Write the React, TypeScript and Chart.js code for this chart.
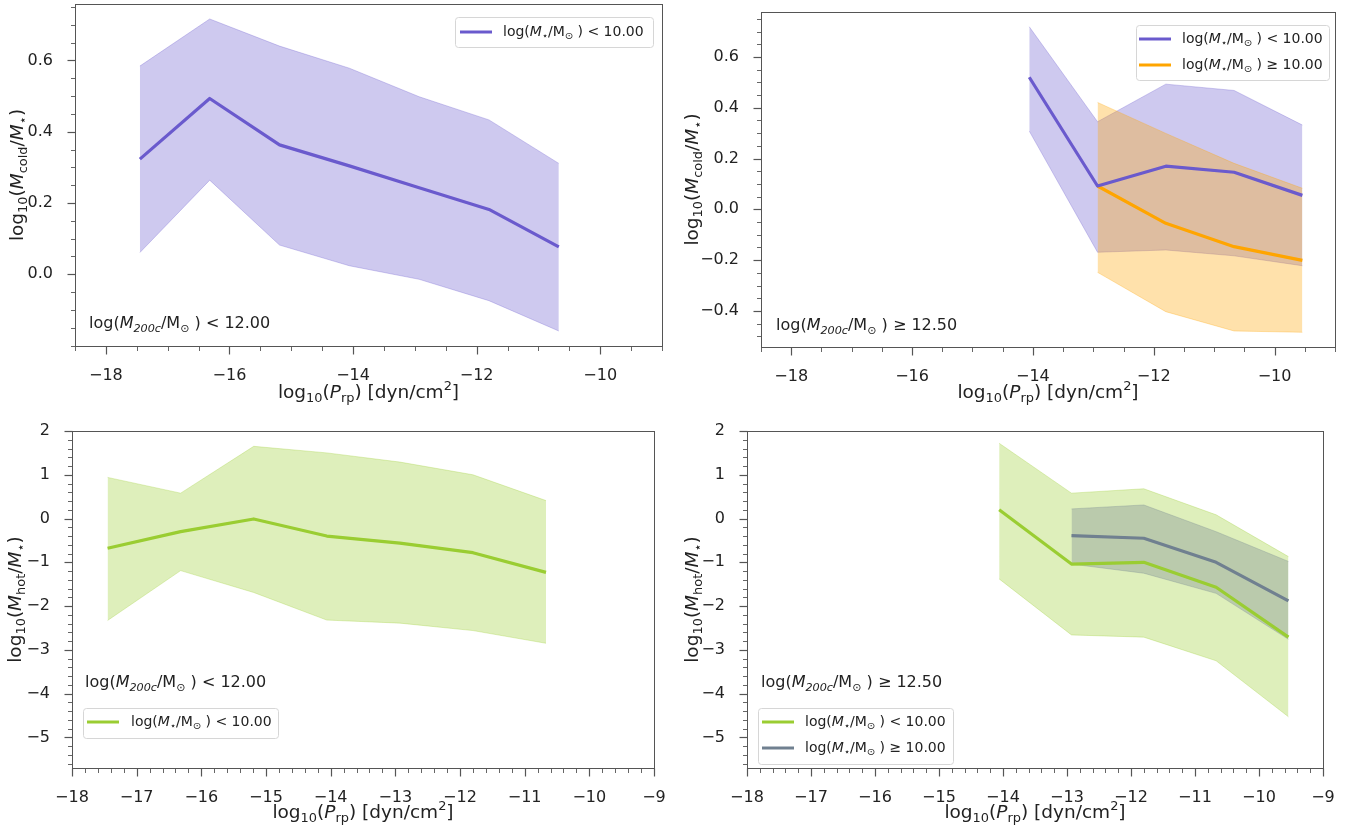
import React, { useEffect, useRef } from 'react';
import { Chart, registerables } from 'chart.js';
Chart.register(...registerables);

// ---------------- data ----------------
const xLowHalo = [-17.45, -16.32, -15.19, -14.06, -12.93, -11.8, -10.67];
const xHighHalo = [-14.06, -12.93, -11.8, -10.67, -9.54];
const xHighHaloMassive = [-12.93, -11.8, -10.67, -9.54];

const coldLowMed = [0.323, 0.493, 0.363, 0.304, 0.243, 0.182, 0.077];
const coldLowUp = [0.584, 0.716, 0.64, 0.578, 0.498, 0.433, 0.311];
const coldLowLo = [0.061, 0.264, 0.082, 0.024, -0.014, -0.074, -0.159];

const coldHighMedA = [0.52, 0.092, 0.17, 0.146, 0.055];
const coldHighUpA = [0.719, 0.345, 0.493, 0.468, 0.332];
const coldHighLoA = [0.308, -0.169, -0.16, -0.183, -0.222];
const coldHighMedB = [0.092, -0.055, -0.147, -0.201];
const coldHighUpB = [0.421, 0.299, 0.181, 0.083];
const coldHighLoB = [-0.248, -0.403, -0.479, -0.484];

const hotLowMed = [-0.68, -0.3, -0.01, -0.4, -0.56, -0.78, -1.23];
const hotLowUp = [0.94, 0.58, 1.65, 1.5, 1.29, 1.0, 0.41];
const hotLowLo = [-2.33, -1.19, -1.69, -2.32, -2.39, -2.56, -2.85];

const hotHighMedA = [0.2, -1.04, -1.0, -1.57, -2.71];
const hotHighUpA = [1.72, 0.58, 0.68, 0.085, -0.87];
const hotHighLoA = [-1.38, -2.66, -2.71, -3.25, -4.53];
const hotHighMedB = [-0.39, -0.45, -1.0, -1.88];
const hotHighUpB = [0.22, 0.31, -0.3, -0.98];
const hotHighLoB = [-1.04, -1.25, -1.71, -2.76];

const topXTicks = [-18, -16, -14, -12, -10];
const bottomXTicks = [-18, -17, -16, -15, -14, -13, -12, -11, -10, -9];
const coldLowYTicks = [0, 0.2, 0.4, 0.6];
const coldHighYTicks = [-0.4, -0.2, 0, 0.2, 0.4, 0.6];
const hotYTicks = [-5, -4, -3, -2, -1, 0, 1, 2];

// ---------------- text helpers ----------------
type Seg = { t: string; i?: boolean; s?: 'sub' | 'sup' };
const FONT = '"DejaVu Sans"';
const TEXT = '#222';
const FRAME = '#555';

const xLabel: Seg[] = [{ t: 'log' }, { t: '10', s: 'sub' }, { t: '(' }, { t: 'P', i: true }, { t: 'rp', s: 'sub' }, { t: ') [dyn/cm' }, { t: '2', s: 'sup' }, { t: ']' }];
const coldLabel: Seg[] = [{ t: 'log' }, { t: '10', s: 'sub' }, { t: '(' }, { t: 'M', i: true }, { t: 'cold', s: 'sub' }, { t: '/' }, { t: 'M', i: true }, { t: '⋆', s: 'sub' }, { t: ')' }];
const hotLabel: Seg[] = [{ t: 'log' }, { t: '10', s: 'sub' }, { t: '(' }, { t: 'M', i: true }, { t: 'hot', s: 'sub' }, { t: '/' }, { t: 'M', i: true }, { t: '⋆', s: 'sub' }, { t: ')' }];
const lowStarLabel: Seg[] = [{ t: 'log(' }, { t: 'M', i: true }, { t: '⋆', s: 'sub' }, { t: '/M' }, { t: '⊙', s: 'sub' }, { t: ' ) < 10.00' }];
const highStarLabel: Seg[] = [{ t: 'log(' }, { t: 'M', i: true }, { t: '⋆', s: 'sub' }, { t: '/M' }, { t: '⊙', s: 'sub' }, { t: ' ) ≥ 10.00' }];
const lowHaloNote: Seg[] = [{ t: 'log(' }, { t: 'M', i: true }, { t: '200c', s: 'sub', i: true }, { t: '/M' }, { t: '⊙', s: 'sub' }, { t: ' ) < 12.00' }];
const highHaloNote: Seg[] = [{ t: 'log(' }, { t: 'M', i: true }, { t: '200c', s: 'sub', i: true }, { t: '/M' }, { t: '⊙', s: 'sub' }, { t: ' ) ≥ 12.50' }];

function segFont(g: Seg, size: number) {
  const sz = g.s ? size * 0.7 : size;
  return `${g.i ? 'italic ' : ''}${sz}px ${FONT}`;
}
function richWidth(ctx: CanvasRenderingContext2D, segs: Seg[], size: number) {
  let w = 0;
  for (const g of segs) {
    ctx.font = segFont(g, size);
    w += ctx.measureText(g.t).width;
  }
  return w;
}
function drawRich(ctx: CanvasRenderingContext2D, segs: Seg[], x: number, cy: number, size: number, align: 'left' | 'center') {
  ctx.save();
  ctx.fillStyle = TEXT;
  ctx.textBaseline = 'alphabetic';
  ctx.textAlign = 'left';
  const w = richWidth(ctx, segs, size);
  let cx = align === 'center' ? x - w / 2 : x;
  const base = cy + 0.28 * size;
  for (const g of segs) {
    ctx.font = segFont(g, size);
    const dy = g.s === 'sub' ? 0.22 * size : g.s === 'sup' ? -0.42 * size : 0;
    ctx.fillText(g.t, cx, base + dy);
    cx += ctx.measureText(g.t).width;
  }
  ctx.restore();
}

// ---------------- panels ----------------
type RGB = [number, number, number];
const SLATEBLUE: RGB = [106, 90, 205];
const ORANGE: RGB = [255, 165, 0];
const YELLOWGREEN: RGB = [154, 205, 50];
const SLATEGRAY: RGB = [112, 128, 144];
const rgba = (c: RGB, a: number) => `rgba(${c[0]},${c[1]},${c[2]},${a})`;

interface SeriesDef { xs: number[]; med: number[]; up: number[]; lo: number[]; color: RGB; label: Seg[] }
interface PanelDef {
  left: number; top: number; w: number; h: number;
  area: { l: number; t: number; r: number; b: number };
  xMin: number; xMax: number; xMajor: number[]; xMinor: number;
  yMin: number; yMax: number; yMajor: number[]; yMinor: number; yDec: number;
  series: SeriesDef[];
  ylabel: Seg[]; ylabelX: number; xlabelY: number;
  note: Seg[]; noteX: number; noteY: number;
  legend: { x: number; y: number; w: number; h: number; lineX: number; rows: number[]; textX: number };
}

const panels: PanelDef[] = [
  {
    left: 0, top: 0, w: 681, h: 414,
    area: { l: 75, t: 4, r: 662, b: 346 },
    xMin: -18.5, xMax: -9.0, xMajor: topXTicks, xMinor: 0.5,
    yMin: -0.201, yMax: 0.758, yMajor: coldLowYTicks, yMinor: 0.05, yDec: 1,
    series: [{ xs: xLowHalo, med: coldLowMed, up: coldLowUp, lo: coldLowLo, color: SLATEBLUE, label: lowStarLabel }],
    ylabel: coldLabel, ylabelX: 18, xlabelY: 393,
    note: lowHaloNote, noteX: 89, noteY: 324,
    legend: { x: 455, y: 17, w: 198, h: 30, lineX: 460, rows: [32], textX: 503 },
  },
  {
    left: 681, top: 0, w: 682, h: 414,
    area: { l: 80, t: 12, r: 654, b: 347 },
    xMin: -18.5, xMax: -9.0, xMajor: topXTicks, xMinor: 0.5,
    yMin: -0.542, yMax: 0.777, yMajor: coldHighYTicks, yMinor: 0.05, yDec: 1,
    series: [
      { xs: xHighHalo, med: coldHighMedA, up: coldHighUpA, lo: coldHighLoA, color: SLATEBLUE, label: lowStarLabel },
      { xs: xHighHaloMassive, med: coldHighMedB, up: coldHighUpB, lo: coldHighLoB, color: ORANGE, label: highStarLabel },
    ],
    ylabel: coldLabel, ylabelX: 12, xlabelY: 393,
    note: highHaloNote, noteX: 95, noteY: 326,
    legend: { x: 455, y: 25, w: 193, h: 55, lineX: 458, rows: [39, 65], textX: 501 },
  },
  {
    left: 0, top: 414, w: 681, h: 414,
    area: { l: 72, t: 17, r: 654, b: 354 },
    xMin: -18, xMax: -9, xMajor: bottomXTicks, xMinor: 0.2,
    yMin: -5.7, yMax: 2.0, yMajor: hotYTicks, yMinor: 0.2, yDec: 0,
    series: [{ xs: xLowHalo, med: hotLowMed, up: hotLowUp, lo: hotLowLo, color: YELLOWGREEN, label: lowStarLabel }],
    ylabel: hotLabel, ylabelX: 16, xlabelY: 399,
    note: lowHaloNote, noteX: 85, noteY: 269,
    legend: { x: 83, y: 294, w: 195, h: 30, lineX: 87, rows: [308], textX: 131 },
  },
  {
    left: 681, top: 414, w: 682, h: 414,
    area: { l: 66, t: 17, r: 642, b: 354 },
    xMin: -18, xMax: -9, xMajor: bottomXTicks, xMinor: 0.2,
    yMin: -5.7, yMax: 2.0, yMajor: hotYTicks, yMinor: 0.2, yDec: 0,
    series: [
      { xs: xHighHalo, med: hotHighMedA, up: hotHighUpA, lo: hotHighLoA, color: YELLOWGREEN, label: lowStarLabel },
      { xs: xHighHaloMassive, med: hotHighMedB, up: hotHighUpB, lo: hotHighLoB, color: SLATEGRAY, label: highStarLabel },
    ],
    ylabel: hotLabel, ylabelX: 12, xlabelY: 399,
    note: highHaloNote, noteX: 80, noteY: 269,
    legend: { x: 77, y: 294, w: 195, h: 56, lineX: 81, rows: [308, 334], textX: 124 },
  },
];

const fmt = (v: number, dec: number) => v.toFixed(dec).replace('-', '\u2212');

function buildChart(canvas: HTMLCanvasElement, p: PanelDef) {
  const pts = (xs: number[], ys: number[]) => xs.map((x, i) => ({ x, y: ys[i] }));
  const datasets: any[] = [];
  const n = p.series.length;
  p.series.forEach((s) => {
    datasets.push({
      data: pts(s.xs, s.med), borderColor: rgba(s.color, 1), borderWidth: 3.2,
      pointRadius: 0, fill: false, order: 0, borderJoinStyle: 'round', borderCapStyle: 'butt',
    });
  });
  p.series.forEach((s, k) => {
    datasets.push({
      data: pts(s.xs, s.up), borderColor: rgba(s.color, 0.3), borderWidth: 1,
      backgroundColor: rgba(s.color, 0.33), pointRadius: 0, fill: '+1', order: 1 + (n - k),
    });
    datasets.push({
      data: pts(s.xs, s.lo), borderColor: rgba(s.color, 0.3), borderWidth: 1,
      pointRadius: 0, fill: false, order: 1 + (n - k),
    });
  });

  const deco = {
    id: 'deco',
    afterDraw(chart: any) {
      const ctx: CanvasRenderingContext2D = chart.ctx;
      const a = chart.chartArea;
      const xs = chart.scales.x;
      const ys = chart.scales.y;
      ctx.save();
      ctx.strokeStyle = FRAME;
      ctx.lineWidth = 1;
      ctx.strokeRect(Math.round(a.left) + 0.5, Math.round(a.top) + 0.5, Math.round(a.right - a.left), Math.round(a.bottom - a.top));
      const isMajor = (v: number, majors: number[]) => majors.some((m) => Math.abs(m - v) < 1e-6);
      const drawTick = (x1: number, y1: number, x2: number, y2: number, w: number) => {
        ctx.lineWidth = w;
        ctx.beginPath();
        ctx.moveTo(x1, y1);
        ctx.lineTo(x2, y2);
        ctx.stroke();
      };
      const bottom = Math.round(a.bottom) + 0.5;
      const left = Math.round(a.left) + 0.5;
      for (let i = Math.ceil(p.xMin / p.xMinor - 1e-6); i * p.xMinor <= p.xMax + 1e-6; i++) {
        const v = i * p.xMinor;
        const px = Math.round(xs.getPixelForValue(v)) + 0.5;
        if (isMajor(v, p.xMajor)) drawTick(px, bottom, px, bottom + 8, 1.2);
        else drawTick(px, bottom, px, bottom + 4.5, 0.9);
      }
      for (let i = Math.ceil(p.yMin / p.yMinor - 1e-6); i * p.yMinor <= p.yMax + 1e-6; i++) {
        const v = i * p.yMinor;
        const py = Math.round(ys.getPixelForValue(v)) + 0.5;
        if (isMajor(v, p.yMajor)) drawTick(left, py, left - 8, py, 1.2);
        else drawTick(left, py, left - 4.5, py, 0.9);
      }
      drawRich(ctx, xLabel, (a.left + a.right) / 2, p.xlabelY, 18.5, 'center');
      ctx.save();
      ctx.translate(p.ylabelX, (a.top + a.bottom) / 2);
      ctx.rotate(-Math.PI / 2);
      drawRich(ctx, p.ylabel, 0, 0, 18.5, 'center');
      ctx.restore();
      drawRich(ctx, p.note, p.noteX, p.noteY, 16, 'left');
      const L = p.legend;
      ctx.beginPath();
      (ctx as any).roundRect(L.x + 0.5, L.y + 0.5, L.w, L.h, 3);
      ctx.fillStyle = 'rgba(255,255,255,0.8)';
      ctx.fill();
      ctx.strokeStyle = '#d6d6d6';
      ctx.lineWidth = 1;
      ctx.stroke();
      p.series.forEach((s, k) => {
        const ry = L.rows[k];
        ctx.strokeStyle = rgba(s.color, 1);
        ctx.lineWidth = 3;
        ctx.beginPath();
        ctx.moveTo(L.lineX, ry);
        ctx.lineTo(L.lineX + 32, ry);
        ctx.stroke();
        drawRich(ctx, s.label, L.textX, ry, 14, 'left');
      });
      ctx.restore();
    },
  };

  return new Chart(canvas, {
    type: 'line',
    data: { datasets },
    options: {
      responsive: false,
      animation: false,
      devicePixelRatio: 1,
      layout: { padding: { top: p.area.t, right: p.w - p.area.r, left: 0, bottom: 0 } },
      plugins: { legend: { display: false }, tooltip: { enabled: false }, filler: { propagate: false } },
      events: [],
      scales: {
        x: {
          type: 'linear', min: p.xMin, max: p.xMax,
          grid: { display: false }, border: { display: false },
          afterBuildTicks: (sc: any) => { sc.ticks = p.xMajor.map((v) => ({ value: v })); },
          afterFit: (sc: any) => { sc.height = p.h - p.area.b; sc.paddingLeft = 0; sc.paddingRight = 0; sc.paddingTop = 0; sc.paddingBottom = 0; },
          ticks: { padding: 12, color: TEXT, font: { family: 'DejaVu Sans', size: 16 }, maxRotation: 0, autoSkip: false, callback: (v: any) => fmt(Number(v), 0) },
        },
        y: {
          type: 'linear', min: p.yMin, max: p.yMax,
          grid: { display: false }, border: { display: false },
          afterBuildTicks: (sc: any) => { sc.ticks = p.yMajor.map((v) => ({ value: v })); },
          afterFit: (sc: any) => { sc.width = p.area.l; sc.paddingLeft = 0; sc.paddingRight = 0; sc.paddingTop = 0; sc.paddingBottom = 0; },
          ticks: { padding: 14, color: TEXT, font: { family: 'DejaVu Sans', size: 16 }, autoSkip: false, callback: (v: any) => fmt(Number(v), p.yDec) },
        },
      },
    } as any,
    plugins: [deco],
  });
}

function Panel({ p }: { p: PanelDef }) {
  const ref = useRef<HTMLCanvasElement>(null);
  useEffect(() => {
    if (!ref.current) return;
    const chart = buildChart(ref.current, p);
    return () => chart.destroy();
  }, [p]);
  return (
    <canvas
      ref={ref}
      width={p.w}
      height={p.h}
      style={{ position: 'absolute', left: p.left, top: p.top, width: p.w, height: p.h, display: 'block' }}
    />
  );
}

export default function App() {
  return (
    <div style={{ position: 'absolute', left: 0, top: 0, width: 1363, height: 828, background: '#fff', overflow: 'hidden' }}>
      {panels.map((p, i) => (
        <Panel key={i} p={p} />
      ))}
    </div>
  );
}
